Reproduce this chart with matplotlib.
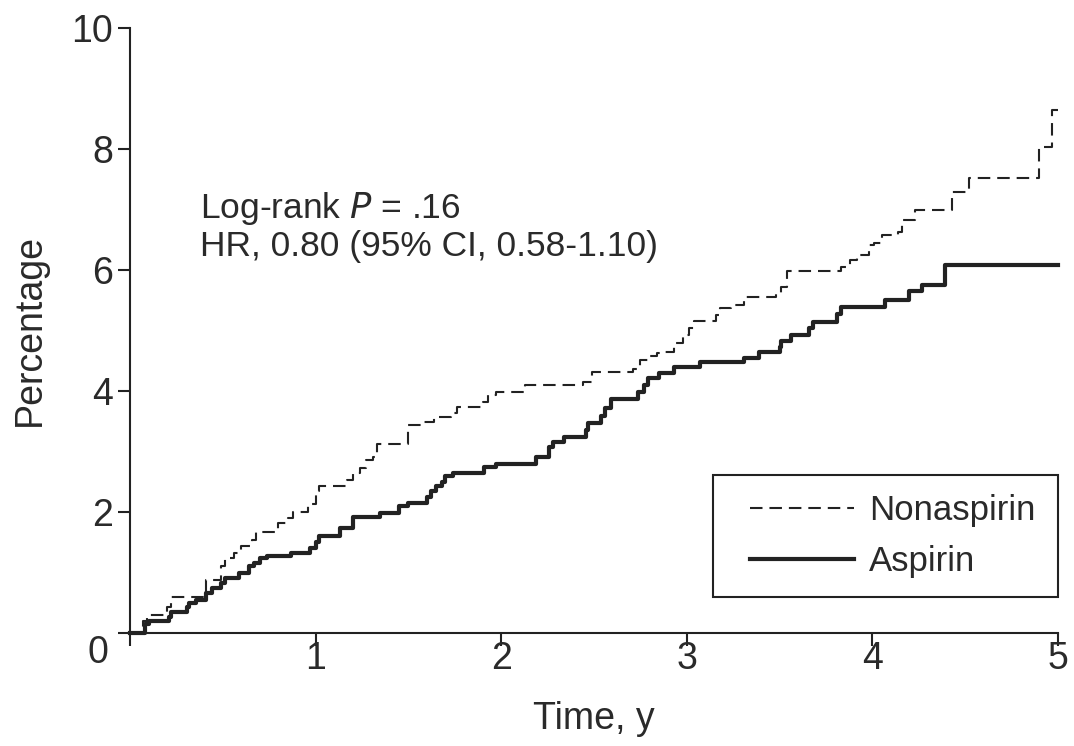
import matplotlib
matplotlib.use("Agg")
import matplotlib.pyplot as plt
from matplotlib.patches import Rectangle

# Cumulative incidence (%), step-post
aspirin_t = [0, 0.08, 0.10, 0.21, 0.22, 0.305, 0.32, 0.355, 0.41, 0.44, 0.49, 0.51,
             0.59, 0.64, 0.67, 0.70, 0.74, 0.87, 0.97, 1.00, 1.02, 1.13, 1.20, 1.35,
             1.45, 1.50, 1.60, 1.62, 1.65, 1.68, 1.70, 1.74, 1.91, 1.97, 2.19, 2.26,
             2.28, 2.34, 2.46, 2.47, 2.54, 2.56, 2.59, 2.74, 2.77, 2.79, 2.85, 2.93,
             3.07, 3.31, 3.39, 3.50, 3.51, 3.56, 3.66, 3.68, 3.81, 3.83, 4.07, 4.20,
             4.27, 4.39, 5.0]
aspirin_v = [0, 0.15, 0.20, 0.27, 0.35, 0.43, 0.50, 0.55, 0.66, 0.74, 0.83, 0.91,
             0.99, 1.10, 1.15, 1.24, 1.28, 1.32, 1.40, 1.51, 1.60, 1.73, 1.92, 1.99,
             2.10, 2.15, 2.25, 2.34, 2.43, 2.50, 2.59, 2.64, 2.75, 2.80, 2.91, 3.08,
             3.16, 3.24, 3.36, 3.47, 3.59, 3.72, 3.87, 3.99, 4.10, 4.21, 4.30, 4.40,
             4.48, 4.55, 4.65, 4.73, 4.82, 4.93, 5.04, 5.14, 5.27, 5.39, 5.50, 5.65,
             5.75, 6.09, 6.09]

nonaspirin_t = [0, 0.07, 0.09, 0.20, 0.22, 0.41, 0.49, 0.51, 0.56, 0.60, 0.66, 0.68,
                0.80, 0.85, 0.88, 0.96, 1.00, 1.02, 1.17, 1.20, 1.24, 1.27, 1.31, 1.33,
                1.50, 1.58, 1.64, 1.73, 1.76, 1.90, 1.93, 1.97, 2.13, 2.44, 2.49, 2.71,
                2.75, 2.80, 2.84, 2.87, 2.93, 2.98, 3.01, 3.04, 3.16, 3.18, 3.24, 3.31,
                3.48, 3.51, 3.54, 3.83, 3.88, 3.92, 3.98, 4.01, 4.05, 4.14, 4.16, 4.23,
                4.43, 4.52, 4.90, 4.97, 5.0]
nonaspirin_v = [0, 0.19, 0.29, 0.43, 0.59, 0.88, 1.10, 1.24, 1.32, 1.43, 1.54, 1.67,
                1.81, 1.90, 2.00, 2.14, 2.34, 2.43, 2.53, 2.64, 2.73, 2.86, 2.91, 3.13,
                3.44, 3.49, 3.57, 3.63, 3.74, 3.81, 3.93, 3.99, 4.10, 4.15, 4.32, 4.37,
                4.51, 4.57, 4.62, 4.65, 4.79, 4.93, 5.04, 5.15, 5.26, 5.37, 5.42, 5.56,
                5.61, 5.72, 5.98, 6.05, 6.17, 6.25, 6.41, 6.44, 6.58, 6.63, 6.83, 6.99,
                7.29, 7.52, 8.04, 8.64, 8.64]

x_ticks = [0, 1, 2, 3, 4, 5]
x_labels = ['', '1', '2', '3', '4', '5']
y_ticks = [0, 2, 4, 6, 8, 10]
y_labels = ['', '2', '4', '6', '8', '10']

ink = "#222222"
txt = "#2a2a2a"
plt.rcParams['font.family'] = ['Liberation Sans', 'DejaVu Sans']
plt.rcParams['lines.scale_dashes'] = False

fig = plt.figure(figsize=(10.74, 7.46), dpi=100)
ax = fig.add_axes([0.121, 0.1515, 0.864, 0.811])

ax.plot(nonaspirin_t, nonaspirin_v, drawstyle='steps-post', color=ink,
        lw=1.5, linestyle=(0, (9, 5)), label='Nonaspirin', clip_on=False)
ax.plot(aspirin_t, aspirin_v, drawstyle='steps-post', color=ink,
        lw=3.0, label='Aspirin', clip_on=False)

ax.set_xlim(0, 5)
ax.set_ylim(0, 10)
ax.set_xticks(x_ticks)
ax.set_xticklabels(x_labels)
ax.set_yticks(y_ticks)
ax.set_yticklabels(y_labels)
ax.tick_params(direction='out', length=9, width=1.5, labelsize=27,
               colors=ink, labelcolor=txt)
ax.tick_params(axis='y', pad=3)
ax.tick_params(axis='x', pad=-3)

# shared origin label sits in the corner
ax.annotate('0', xy=(0, 0), xytext=(-32, -20), textcoords='offset pixels',
            fontsize=27, color=txt, ha='center', va='center')

for side in ['top', 'right']:
    ax.spines[side].set_visible(False)
for side in ['left', 'bottom']:
    ax.spines[side].set_linewidth(1.5)
    ax.spines[side].set_color(ink)

ax.set_xlabel('Time, y', fontsize=27, color=txt, labelpad=17)
ax.set_ylabel('Percentage', fontsize=27, color=txt, labelpad=17)

ax.text(0.377, 6.72, 'Log-rank $\\it{P}$ = .16\nHR, 0.80 (95% CI, 0.58-1.10)',
        fontsize=25.5, color=txt, va='center', ha='left', linespacing=1.12)

# legend box drawn separately so the padding matches the original
ax.add_patch(Rectangle((0.628, 0.0595), 0.372, 0.2015, transform=ax.transAxes,
                       fill=False, edgecolor=ink, lw=1.5, clip_on=False, zorder=4))
leg = ax.legend(loc='center', bbox_to_anchor=(0.822, 0.160), fontsize=25,
                frameon=False, handlelength=3.0, handletextpad=0.45,
                borderpad=0, labelspacing=0.5, borderaxespad=0)
for t in leg.get_texts():
    t.set_color(txt)

fig.savefig('out.png', dpi=100)
